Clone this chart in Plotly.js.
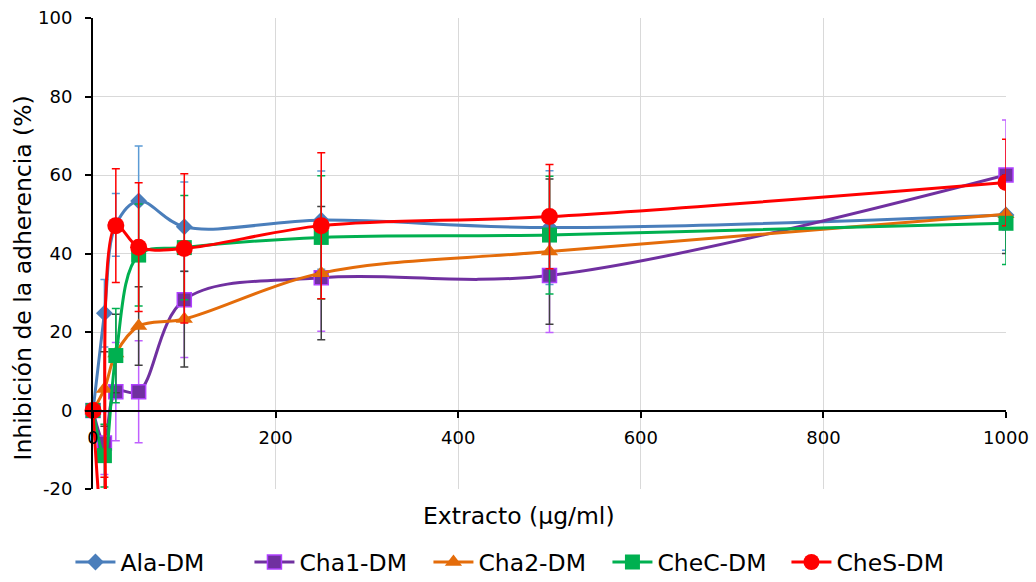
<!DOCTYPE html>
<html>
<head>
<meta charset="utf-8">
<script src="https://cdn.plot.ly/plotly-3.0.1.min.js"></script>
<style>
html,body{margin:0;padding:0;background:#fff;}
#chart{width:1036px;height:582px;}
</style>
</head>
<body>
<div id="chart"></div>
<script>
const conc = [0, 12.5, 25, 50, 100, 250, 500, 1000];

const alaDM    = [0, 24.8, 47.3, 53.4, 46.8, 48.5, 46.6, 49.8];
const alaErr   = [0, 8.6, 8, 14, 11.4, 12.5, 14.5, 9];
const cha1DM   = [0, -8.3, 4.8, 4.8, 28.2, 33.8, 34.4, 60];
const cha1Err  = [0, 8, 12.5, 13, 14.7, 13.6, 14.5, 14];
const cha2DM   = [0, 5.5, 14.5, 21.5, 23.3, 35, 40.5, 50];
const cha2Err  = [0, 9.5, 10, 10, 12.2, 17, 18.5, 10];
const checDM   = [0, -11.5, 14, 39.6, 41.5, 44.1, 44.7, 47.7];
const checErr  = [0, 8, 12, 13, 13.3, 15.7, 15, 10.5];
const chesDM   = [0, -35, 47.1, 41.6, 41.3, 47.1, 49.4, 58.1];
const chesErr  = [0, 18, 14.5, 16.4, 19, 18.6, 13.3, 11];

const yTickVals = [-20, 0, 20, 40, 60, 80, 100];
const yTickText = ["-20", "0", "20", "40", "60", "80", "100"];
const xTickVals = [0, 200, 400, 600, 800, 1000];
const xTickText = ["0", "200", "400", "600", "800", "1000"];

const xTitle = 'Extracto (µg/ml)';
const yTitle = 'Inhibición de la adherencia (%)';

function series(name, y, err, lineColor, marker, errColor, clip) {
  return {
    type: 'scatter', mode: 'lines+markers', name: name,
    x: conc, y: y,
    line: {color: lineColor, width: 3, shape: 'spline', smoothing: 1},
    marker: marker,
    error_y: {type: 'data', array: err, visible: true, color: errColor, thickness: 1.5, width: 4},
    cliponaxis: clip
  };
}

const chesMarker = {symbol: 'circle', size: 17, color: '#FF0000', line: {width: 0}};

const traces = [
  series('Ala-DM', alaDM, alaErr, '#4A7EBB',
    {symbol: 'diamond', size: 13, color: '#4A7EBB', line: {width: 0}}, '#5B9BD5', false),
  series('Cha1-DM', cha1DM, cha1Err, '#7030A0',
    {symbol: 'square', size: 14, color: '#7030A0', line: {width: 1.5, color: '#B040FF'}}, '#C060FF', false),
  series('Cha2-DM', cha2DM, cha2Err, '#E46C0A',
    {symbol: 'triangle-up', size: 15, color: '#E46C0A', line: {width: 0}}, '#404040', false),
  series('CheC-DM', checDM, checErr, '#00B050',
    {symbol: 'square', size: 15, color: '#00B050', line: {width: 0}}, '#00B050', false),
  series('CheS-DM', chesDM, chesErr, '#FF0000', chesMarker, '#FF0000', true),
  {
    type: 'scatter', mode: 'markers', showlegend: false, hoverinfo: 'skip',
    x: conc.slice(0, 1), y: chesDM.slice(0, 1),
    marker: chesMarker, cliponaxis: false
  }
];

const font = "DejaVu Sans, Verdana, sans-serif";

const layout = {
  width: 1036, height: 582,
  paper_bgcolor: '#fff', plot_bgcolor: '#fff',
  margin: {l: 93, r: 30, t: 18, b: 93, autoexpand: false},
  font: {family: font, size: 18, color: '#000'},
  showlegend: true,
  legend: {orientation: 'h', xref: 'container', yref: 'container',
           x: 0.068, xanchor: 'left', y: 0.034, yanchor: 'middle',
           font: {family: font, size: 23.5, color: '#000'}, itemwidth: 40,
           entrywidth: 124, entrywidthmode: 'pixels'},
  xaxis: {
    range: [0, 1000], anchor: 'free', position: 20/120,
    tickvals: xTickVals, ticktext: xTickText,
    showline: true, linecolor: '#000', linewidth: 2,
    ticks: 'outside', ticklen: 6, tickwidth: 2, tickcolor: '#000',
    ticklabelstandoff: 5,
    showgrid: true, gridcolor: '#D9D9D9', gridwidth: 1, zeroline: false,
    tickfont: {family: font, size: 18, color: '#000'}
  },
  yaxis: {
    range: [-20, 100], domain: [0, 1],
    tickvals: yTickVals, ticktext: yTickText,
    showline: true, linecolor: '#000', linewidth: 2,
    ticks: 'outside', ticklen: 6, tickwidth: 2, tickcolor: '#000',
    ticklabelstandoff: 9,
    showgrid: true, gridcolor: '#D9D9D9', gridwidth: 1, zeroline: false,
    tickfont: {family: font, size: 18, color: '#000'}
  },
  annotations: [
    {text: xTitle, xref: 'paper', yref: 'paper', x: 0.4666, y: -0.0573,
     xanchor: 'center', yanchor: 'middle', showarrow: false,
     font: {family: font, size: 23.5, color: '#000'}},
    {text: yTitle, xref: 'paper', yref: 'paper', x: -0.0767, y: 0.449,
     xanchor: 'center', yanchor: 'middle', showarrow: false, textangle: -90,
     font: {family: font, size: 23.5, color: '#000'}}
  ]
};

Plotly.newPlot('chart', traces, layout, {displayModeBar: false, staticPlot: true});
</script>
</body>
</html>
